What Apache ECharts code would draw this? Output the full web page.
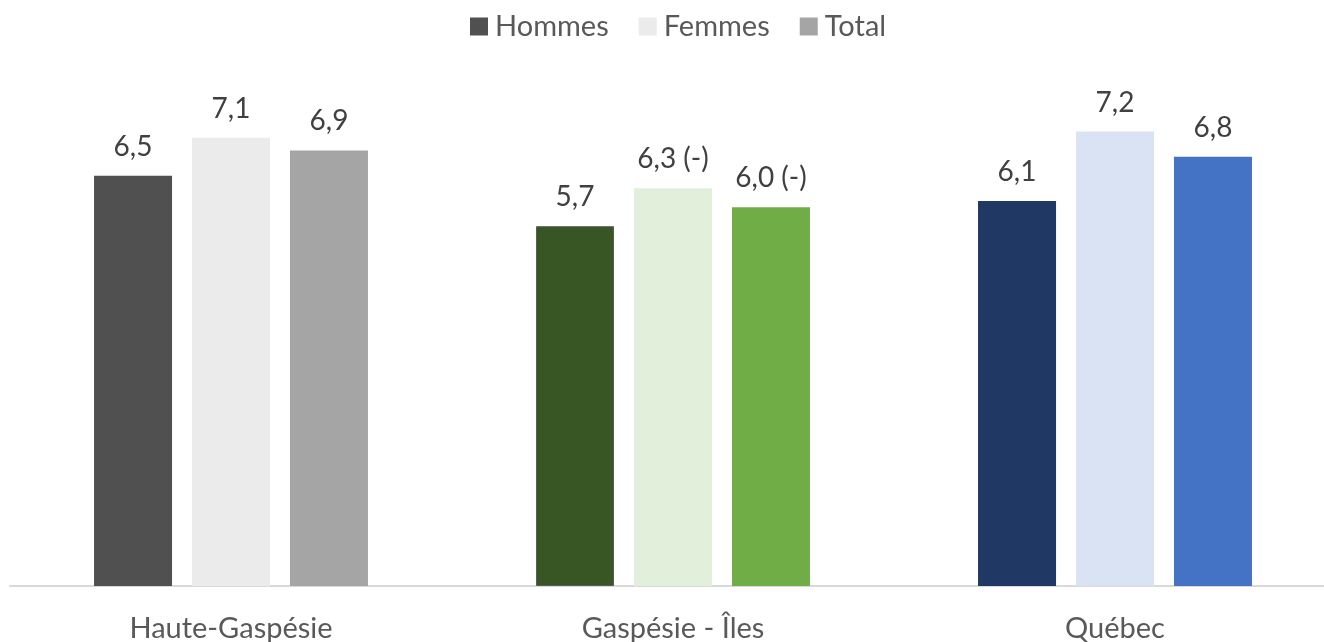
<!DOCTYPE html>
<html>
<head>
<meta charset="utf-8">
<script src="https://cdn.jsdelivr.net/npm/echarts@6/dist/echarts.min.js"></script>
<style>
html,body{margin:0;padding:0;background:#fff;}
#chart{width:1324px;height:642px;}
</style>
</head>
<body>
<div id="chart"></div>
<script>
const categories = ['Haute-Gaspésie', 'Gaspésie - Îles', 'Québec'];
const hommes = [6.5, 5.7, 6.1];
const femmes = [7.1, 6.3, 7.2];
const total = [6.9, 6.0, 6.8];
// "(-)" note shown next to some values
const femmesNote = ['', ' (-)', ''];
const totalNote = ['', ' (-)', ''];

// colour per region for each series
const hommesColors = ['#505050', '#375623', '#203864'];
const femmesColors = ['#EBEBEB', '#E2EFDA', '#DAE3F3'];
const totalColors = ['#A5A5A5', '#70AD47', '#4472C4'];

const FONT = 'Lato, "Open Sans", sans-serif';

function fmt(v) { return v.toFixed(1).replace('.', ','); }

function makeSeries(name, values, colors, notes, legendColor, border) {
  return {
    name: name,
    type: 'bar',
    barWidth: 78,
    barGap: '25.6%',
    itemStyle: { color: legendColor },
    data: values.map((v, i) => ({
      value: v,
      itemStyle: Object.assign({ color: colors[i] }, border && i === 1 ? { borderColor: '#5a5a5a', borderWidth: 1 } : {})
    })),
    label: {
      show: true,
      position: 'top',
      distance: 15,
      color: '#404040',
      fontFamily: FONT,
      fontSize: 28,
      formatter: p => fmt(p.value) + (notes ? notes[p.dataIndex] : '')
    }
  };
}

const chart = echarts.init(document.getElementById('chart'));
chart.setOption({
  animation: false,
  legend: {
    top: 7,
    left: 465,
    icon: 'rect',
    itemWidth: 18,
    itemHeight: 18,
    itemGap: 30,
    textStyle: { color: '#595959', fontFamily: FONT, fontSize: 29, padding: [0, 0, 0, 2] },
    data: ['Hommes', 'Femmes', 'Total']
  },
  grid: { left: 10, right: -12, top: 81, bottom: 56, containLabel: false, outerBoundsMode: 'none' },
  xAxis: {
    type: 'category',
    data: categories,
    axisLine: { lineStyle: { color: '#D9D9D9', width: 2 } },
    axisTick: { show: false },
    axisLabel: { color: '#595959', fontFamily: FONT, fontSize: 29, margin: 28 }
  },
  yAxis: {
    type: 'value',
    min: 0,
    max: 8,
    show: false,
    splitLine: { show: false }
  },
  series: [
    makeSeries('Hommes', hommes, hommesColors, null, '#505050', true),
    makeSeries('Femmes', femmes, femmesColors, femmesNote, '#EBEBEB', false),
    makeSeries('Total', total, totalColors, totalNote, '#A5A5A5', false)
  ]
});
</script>
</body>
</html>
